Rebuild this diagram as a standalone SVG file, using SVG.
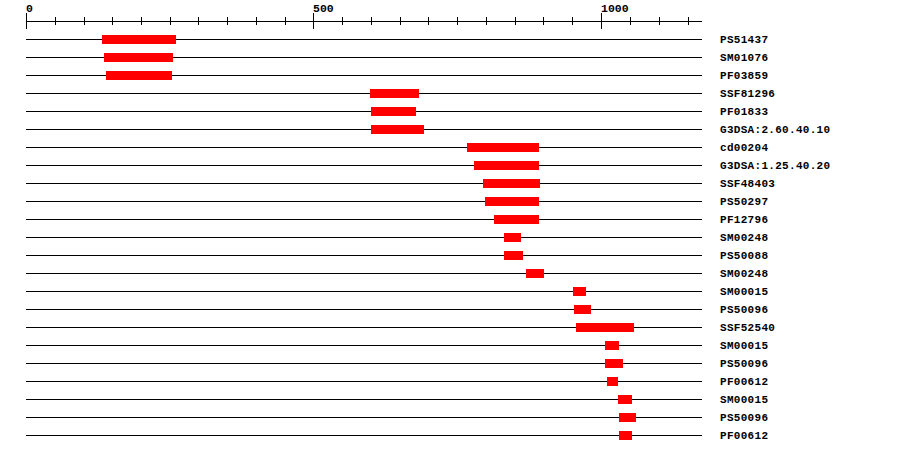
<svg xmlns="http://www.w3.org/2000/svg" width="900" height="454" viewBox="0 0 900 454">
<style>
.ax{stroke:#000;stroke-width:1;fill:none}
.ln{stroke:#000;stroke-width:1}
.bar{fill:#ff0000}
.lbl{font-family:"Liberation Mono","DejaVu Sans Mono",monospace;font-weight:bold;font-size:11px;letter-spacing:0.3px;fill:#000}
.axl{font-family:"Liberation Mono","DejaVu Sans Mono",monospace;font-weight:bold;font-size:11.5px;fill:#000}
</style>
<rect width="900" height="454" fill="#fff"/>
<g id="axis">
<line class="ax" x1="26" y1="21.5" x2="702" y2="21.5"/>
<path class="ax" d="M26.5 13V29M313.5 13V29M601.5 13V29M55.5 17V25M84.5 17V25M112.5 17V25M141.5 17V25M170.5 17V25M198.5 17V25M227.5 17V25M256.5 17V25M285.5 17V25M342.5 17V25M371.5 17V25M400.5 17V25M428.5 17V25M457.5 17V25M486.5 17V25M515.5 17V25M543.5 17V25M572.5 17V25M630.5 17V25M659.5 17V25M688.5 17V25"/>
<text class="axl" x="26" y="12">0</text>
<text class="axl" x="313" y="12">500</text>
<text class="axl" x="601" y="12">1000</text>
</g>
<g id="connectors">
<path class="ln" d="M26 39.5H702M26 57.5H702M26 75.5H702M26 93.5H702M26 111.5H702M26 129.5H702M26 147.5H702M26 165.5H702M26 183.5H702M26 201.5H702M26 219.5H702M26 237.5H702M26 255.5H702M26 273.5H702M26 291.5H702M26 309.5H702M26 327.5H702M26 345.5H702M26 363.5H702M26 381.5H702M26 399.5H702M26 417.5H702M26 435.5H702"/>
</g>
<g id="r1"><rect class="bar" x="102" y="35" width="74" height="9"/><text class="lbl" x="720" y="43">PS51437</text></g>
<g id="r2"><rect class="bar" x="104" y="53" width="69" height="9"/><text class="lbl" x="720" y="61">SM01076</text></g>
<g id="r3"><rect class="bar" x="106" y="71" width="66" height="9"/><text class="lbl" x="720" y="79">PF03859</text></g>
<g id="r4"><rect class="bar" x="370" y="89" width="49" height="9"/><text class="lbl" x="720" y="97">SSF81296</text></g>
<g id="r5"><rect class="bar" x="371" y="107" width="45" height="9"/><text class="lbl" x="720" y="115">PF01833</text></g>
<g id="r6"><rect class="bar" x="371" y="125" width="53" height="9"/><text class="lbl" x="720" y="133">G3DSA:2.60.40.10</text></g>
<g id="r7"><rect class="bar" x="467" y="143" width="72" height="9"/><text class="lbl" x="720" y="151">cd00204</text></g>
<g id="r8"><rect class="bar" x="474" y="161" width="65" height="9"/><text class="lbl" x="720" y="169">G3DSA:1.25.40.20</text></g>
<g id="r9"><rect class="bar" x="483" y="179" width="57" height="9"/><text class="lbl" x="720" y="187">SSF48403</text></g>
<g id="r10"><rect class="bar" x="485" y="197" width="54" height="9"/><text class="lbl" x="720" y="205">PS50297</text></g>
<g id="r11"><rect class="bar" x="494" y="215" width="45" height="9"/><text class="lbl" x="720" y="223">PF12796</text></g>
<g id="r12"><rect class="bar" x="504" y="233" width="17" height="9"/><text class="lbl" x="720" y="241">SM00248</text></g>
<g id="r13"><rect class="bar" x="504" y="251" width="19" height="9"/><text class="lbl" x="720" y="259">PS50088</text></g>
<g id="r14"><rect class="bar" x="526" y="269" width="18" height="9"/><text class="lbl" x="720" y="277">SM00248</text></g>
<g id="r15"><rect class="bar" x="573" y="287" width="13" height="9"/><text class="lbl" x="720" y="295">SM00015</text></g>
<g id="r16"><rect class="bar" x="574" y="305" width="17" height="9"/><text class="lbl" x="720" y="313">PS50096</text></g>
<g id="r17"><rect class="bar" x="576" y="323" width="58" height="9"/><text class="lbl" x="720" y="331">SSF52540</text></g>
<g id="r18"><rect class="bar" x="605" y="341" width="14" height="9"/><text class="lbl" x="720" y="349">SM00015</text></g>
<g id="r19"><rect class="bar" x="605" y="359" width="18" height="9"/><text class="lbl" x="720" y="367">PS50096</text></g>
<g id="r20"><rect class="bar" x="607" y="377" width="11" height="9"/><text class="lbl" x="720" y="385">PF00612</text></g>
<g id="r21"><rect class="bar" x="618" y="395" width="14" height="9"/><text class="lbl" x="720" y="403">SM00015</text></g>
<g id="r22"><rect class="bar" x="619" y="413" width="17" height="9"/><text class="lbl" x="720" y="421">PS50096</text></g>
<g id="r23"><rect class="bar" x="619" y="431" width="13" height="9"/><text class="lbl" x="720" y="439">PF00612</text></g>
</svg>
